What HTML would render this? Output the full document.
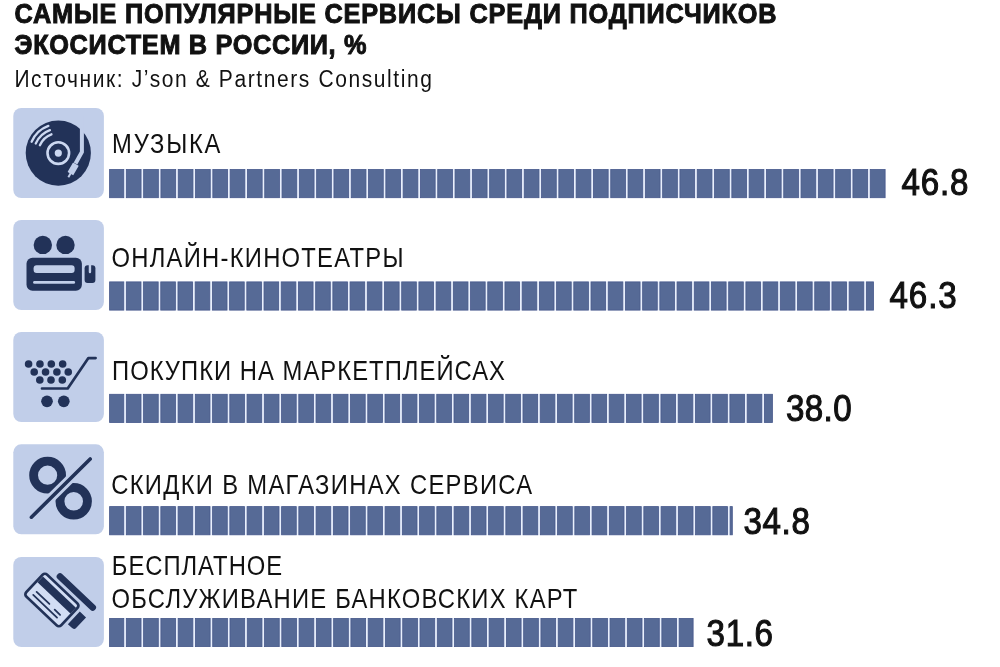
<!DOCTYPE html>
<html><head><meta charset="utf-8"><style>
html,body{margin:0;padding:0;background:#fff;}
svg{display:block;font-family:"Liberation Sans",sans-serif;will-change:transform;}
</style></head><body>
<svg width="1000" height="667" viewBox="0 0 1000 667">
<rect width="1000" height="667" fill="#ffffff"/>
<rect x="13.3" y="108" width="90.6" height="90" rx="8" fill="#c1cee9"/>
<rect x="13.3" y="220" width="90.6" height="90" rx="8" fill="#c1cee9"/>
<rect x="13.3" y="332" width="90.6" height="90" rx="8" fill="#c1cee9"/>
<rect x="13.3" y="444.3" width="90.6" height="90" rx="8" fill="#c1cee9"/>
<rect x="13.3" y="557" width="90.6" height="90" rx="8" fill="#c1cee9"/>
<circle cx="58.3" cy="153.1" r="32.6" fill="#223258"/>
<circle cx="58.3" cy="153.1" r="10.8" fill="none" stroke="#ccd8f1" stroke-width="2.6"/>
<circle cx="58.3" cy="153.1" r="3.6" fill="#ccd8f1"/>
<path d="M31.61 141.77A29 29 0 0 1 48.38 125.85 M35.75 143.53A24.5 24.5 0 0 1 49.92 130.08 M39.89 145.29A20 20 0 0 1 51.46 134.31" fill="none" stroke="#ccd8f1" stroke-width="2.3" stroke-linecap="round"/>
<path d="M81.9 116 L81.9 152 L75.5 163.5" fill="none" stroke="#c1cee9" stroke-width="4" stroke-linejoin="miter"/>
<g transform="translate(73.1,169) rotate(30)"><rect x="-3.3" y="-5.6" width="6.6" height="11" rx="0.6" fill="#c1cee9"/><rect x="-1" y="4" width="2" height="5.5" fill="#c1cee9"/></g>
<circle cx="42.8" cy="244.9" r="9.2" fill="#223258"/>
<circle cx="65.5" cy="244.9" r="9.2" fill="#223258"/>
<rect x="26.5" y="257.8" width="55.4" height="32.9" rx="6" fill="#223258"/>
<rect x="33.6" y="265.2" width="41" height="7.8" rx="3" fill="#c1cee9"/>
<rect x="33.1" y="280.9" width="42" height="2.9" rx="1.4" fill="#c1cee9"/>
<rect x="84.6" y="265.2" width="10.8" height="17.8" rx="3" fill="#223258"/>
<rect x="88.75" y="262" width="2.4" height="11.2" rx="1.2" fill="#c1cee9"/>
<circle cx="28.6" cy="363.95" r="3.8" fill="#223258"/>
<circle cx="39.95" cy="363.95" r="3.8" fill="#223258"/>
<circle cx="51.3" cy="363.95" r="3.8" fill="#223258"/>
<circle cx="62.65" cy="363.95" r="3.8" fill="#223258"/>
<circle cx="34.2" cy="372.05" r="3.8" fill="#223258"/>
<circle cx="45.55" cy="372.05" r="3.8" fill="#223258"/>
<circle cx="56.9" cy="372.05" r="3.8" fill="#223258"/>
<circle cx="68.25" cy="372.05" r="3.8" fill="#223258"/>
<circle cx="39.8" cy="380" r="3.8" fill="#223258"/>
<circle cx="51.0" cy="380" r="3.8" fill="#223258"/>
<circle cx="62.3" cy="380" r="3.8" fill="#223258"/>
<path d="M42 388.5 L67.7 388.5 L88.4 358.1 L95.6 358.1" fill="none" stroke="#223258" stroke-width="2.7" stroke-linecap="round" stroke-linejoin="round"/>
<circle cx="47" cy="401.3" r="5.85" fill="#223258"/><circle cx="63.8" cy="401.3" r="5.85" fill="#223258"/>
<circle cx="47.6" cy="475.2" r="14" fill="none" stroke="#223258" stroke-width="8.8"/>
<circle cx="73.7" cy="501.3" r="13.75" fill="none" stroke="#223258" stroke-width="8.9"/>
<path d="M31.4 517.2 L90.2 459" stroke="#c1cee9" stroke-width="9.4" stroke-linecap="butt"/>
<path d="M31.4 517.2 L90.2 459" stroke="#223258" stroke-width="3.6" stroke-linecap="round"/>
<g transform="translate(51.9,600) rotate(43.5)">
<rect x="-13.5" y="-25.9" width="51.5" height="6.6" rx="3" fill="#223258"/>
<path d="M28.2 -10.8 L36.8 -10.8 L36.8 3.3 Q36.8 6.5 33.6 6.5 L28.2 6.5 Z" fill="#223258"/>
<rect x="-25.4" y="-16.45" width="50.8" height="32.9" rx="4.5" fill="#223258"/>
<rect x="-22.7" y="-13.75" width="45.4" height="27.5" rx="2" fill="#d2ddf4"/>
<rect x="-22.7" y="-11" width="45.4" height="8" fill="#223258"/>
<path d="M-16.7 4.6 L0.9 4.6 M8.7 5.1 L16.1 5.1 M-17 9.2 L15.8 9.2" stroke="#223258" stroke-width="1.8" stroke-linecap="round"/>
</g>
<rect x="109.2" y="169.1" width="776.30" height="29" fill="#e9f0fd"/>
<rect x="109.60" y="169.50" width="14.15" height="28.20" fill="#566a96" stroke="#48598a" stroke-width="0.8"/>
<rect x="126.35" y="169.50" width="14.70" height="28.20" fill="#566a96" stroke="#48598a" stroke-width="0.8"/>
<rect x="143.65" y="169.50" width="14.70" height="28.20" fill="#566a96" stroke="#48598a" stroke-width="0.8"/>
<rect x="160.95" y="169.50" width="14.70" height="28.20" fill="#566a96" stroke="#48598a" stroke-width="0.8"/>
<rect x="178.25" y="169.50" width="14.70" height="28.20" fill="#566a96" stroke="#48598a" stroke-width="0.8"/>
<rect x="195.55" y="169.50" width="14.70" height="28.20" fill="#566a96" stroke="#48598a" stroke-width="0.8"/>
<rect x="212.85" y="169.50" width="14.70" height="28.20" fill="#566a96" stroke="#48598a" stroke-width="0.8"/>
<rect x="230.15" y="169.50" width="14.70" height="28.20" fill="#566a96" stroke="#48598a" stroke-width="0.8"/>
<rect x="247.45" y="169.50" width="14.70" height="28.20" fill="#566a96" stroke="#48598a" stroke-width="0.8"/>
<rect x="264.75" y="169.50" width="14.70" height="28.20" fill="#566a96" stroke="#48598a" stroke-width="0.8"/>
<rect x="282.05" y="169.50" width="14.70" height="28.20" fill="#566a96" stroke="#48598a" stroke-width="0.8"/>
<rect x="299.35" y="169.50" width="14.70" height="28.20" fill="#566a96" stroke="#48598a" stroke-width="0.8"/>
<rect x="316.65" y="169.50" width="14.70" height="28.20" fill="#566a96" stroke="#48598a" stroke-width="0.8"/>
<rect x="333.95" y="169.50" width="14.70" height="28.20" fill="#566a96" stroke="#48598a" stroke-width="0.8"/>
<rect x="351.25" y="169.50" width="14.70" height="28.20" fill="#566a96" stroke="#48598a" stroke-width="0.8"/>
<rect x="368.55" y="169.50" width="14.70" height="28.20" fill="#566a96" stroke="#48598a" stroke-width="0.8"/>
<rect x="385.85" y="169.50" width="14.70" height="28.20" fill="#566a96" stroke="#48598a" stroke-width="0.8"/>
<rect x="403.15" y="169.50" width="14.70" height="28.20" fill="#566a96" stroke="#48598a" stroke-width="0.8"/>
<rect x="420.45" y="169.50" width="14.70" height="28.20" fill="#566a96" stroke="#48598a" stroke-width="0.8"/>
<rect x="437.75" y="169.50" width="14.70" height="28.20" fill="#566a96" stroke="#48598a" stroke-width="0.8"/>
<rect x="455.05" y="169.50" width="14.70" height="28.20" fill="#566a96" stroke="#48598a" stroke-width="0.8"/>
<rect x="472.35" y="169.50" width="14.70" height="28.20" fill="#566a96" stroke="#48598a" stroke-width="0.8"/>
<rect x="489.65" y="169.50" width="14.70" height="28.20" fill="#566a96" stroke="#48598a" stroke-width="0.8"/>
<rect x="506.95" y="169.50" width="14.70" height="28.20" fill="#566a96" stroke="#48598a" stroke-width="0.8"/>
<rect x="524.25" y="169.50" width="14.70" height="28.20" fill="#566a96" stroke="#48598a" stroke-width="0.8"/>
<rect x="541.55" y="169.50" width="14.70" height="28.20" fill="#566a96" stroke="#48598a" stroke-width="0.8"/>
<rect x="558.85" y="169.50" width="14.70" height="28.20" fill="#566a96" stroke="#48598a" stroke-width="0.8"/>
<rect x="576.15" y="169.50" width="14.70" height="28.20" fill="#566a96" stroke="#48598a" stroke-width="0.8"/>
<rect x="593.45" y="169.50" width="14.70" height="28.20" fill="#566a96" stroke="#48598a" stroke-width="0.8"/>
<rect x="610.75" y="169.50" width="14.70" height="28.20" fill="#566a96" stroke="#48598a" stroke-width="0.8"/>
<rect x="628.05" y="169.50" width="14.70" height="28.20" fill="#566a96" stroke="#48598a" stroke-width="0.8"/>
<rect x="645.35" y="169.50" width="14.70" height="28.20" fill="#566a96" stroke="#48598a" stroke-width="0.8"/>
<rect x="662.65" y="169.50" width="14.70" height="28.20" fill="#566a96" stroke="#48598a" stroke-width="0.8"/>
<rect x="679.95" y="169.50" width="14.70" height="28.20" fill="#566a96" stroke="#48598a" stroke-width="0.8"/>
<rect x="697.25" y="169.50" width="14.70" height="28.20" fill="#566a96" stroke="#48598a" stroke-width="0.8"/>
<rect x="714.55" y="169.50" width="14.70" height="28.20" fill="#566a96" stroke="#48598a" stroke-width="0.8"/>
<rect x="731.85" y="169.50" width="14.70" height="28.20" fill="#566a96" stroke="#48598a" stroke-width="0.8"/>
<rect x="749.15" y="169.50" width="14.70" height="28.20" fill="#566a96" stroke="#48598a" stroke-width="0.8"/>
<rect x="766.45" y="169.50" width="14.70" height="28.20" fill="#566a96" stroke="#48598a" stroke-width="0.8"/>
<rect x="783.75" y="169.50" width="14.70" height="28.20" fill="#566a96" stroke="#48598a" stroke-width="0.8"/>
<rect x="801.05" y="169.50" width="14.70" height="28.20" fill="#566a96" stroke="#48598a" stroke-width="0.8"/>
<rect x="818.35" y="169.50" width="14.70" height="28.20" fill="#566a96" stroke="#48598a" stroke-width="0.8"/>
<rect x="835.65" y="169.50" width="14.70" height="28.20" fill="#566a96" stroke="#48598a" stroke-width="0.8"/>
<rect x="852.95" y="169.50" width="14.70" height="28.20" fill="#566a96" stroke="#48598a" stroke-width="0.8"/>
<rect x="870.25" y="169.50" width="14.85" height="28.20" fill="#566a96" stroke="#48598a" stroke-width="0.8"/>
<rect x="109.2" y="281.5" width="764.70" height="29" fill="#e9f0fd"/>
<rect x="109.60" y="281.90" width="14.15" height="28.20" fill="#566a96" stroke="#48598a" stroke-width="0.8"/>
<rect x="126.35" y="281.90" width="14.61" height="28.20" fill="#566a96" stroke="#48598a" stroke-width="0.8"/>
<rect x="143.56" y="281.90" width="14.61" height="28.20" fill="#566a96" stroke="#48598a" stroke-width="0.8"/>
<rect x="160.77" y="281.90" width="14.61" height="28.20" fill="#566a96" stroke="#48598a" stroke-width="0.8"/>
<rect x="177.98" y="281.90" width="14.61" height="28.20" fill="#566a96" stroke="#48598a" stroke-width="0.8"/>
<rect x="195.19" y="281.90" width="14.61" height="28.20" fill="#566a96" stroke="#48598a" stroke-width="0.8"/>
<rect x="212.40" y="281.90" width="14.61" height="28.20" fill="#566a96" stroke="#48598a" stroke-width="0.8"/>
<rect x="229.61" y="281.90" width="14.61" height="28.20" fill="#566a96" stroke="#48598a" stroke-width="0.8"/>
<rect x="246.82" y="281.90" width="14.61" height="28.20" fill="#566a96" stroke="#48598a" stroke-width="0.8"/>
<rect x="264.03" y="281.90" width="14.61" height="28.20" fill="#566a96" stroke="#48598a" stroke-width="0.8"/>
<rect x="281.24" y="281.90" width="14.61" height="28.20" fill="#566a96" stroke="#48598a" stroke-width="0.8"/>
<rect x="298.45" y="281.90" width="14.61" height="28.20" fill="#566a96" stroke="#48598a" stroke-width="0.8"/>
<rect x="315.66" y="281.90" width="14.61" height="28.20" fill="#566a96" stroke="#48598a" stroke-width="0.8"/>
<rect x="332.87" y="281.90" width="14.61" height="28.20" fill="#566a96" stroke="#48598a" stroke-width="0.8"/>
<rect x="350.08" y="281.90" width="14.61" height="28.20" fill="#566a96" stroke="#48598a" stroke-width="0.8"/>
<rect x="367.29" y="281.90" width="14.61" height="28.20" fill="#566a96" stroke="#48598a" stroke-width="0.8"/>
<rect x="384.50" y="281.90" width="14.61" height="28.20" fill="#566a96" stroke="#48598a" stroke-width="0.8"/>
<rect x="401.71" y="281.90" width="14.61" height="28.20" fill="#566a96" stroke="#48598a" stroke-width="0.8"/>
<rect x="418.92" y="281.90" width="14.61" height="28.20" fill="#566a96" stroke="#48598a" stroke-width="0.8"/>
<rect x="436.13" y="281.90" width="14.61" height="28.20" fill="#566a96" stroke="#48598a" stroke-width="0.8"/>
<rect x="453.34" y="281.90" width="14.61" height="28.20" fill="#566a96" stroke="#48598a" stroke-width="0.8"/>
<rect x="470.55" y="281.90" width="14.61" height="28.20" fill="#566a96" stroke="#48598a" stroke-width="0.8"/>
<rect x="487.76" y="281.90" width="14.61" height="28.20" fill="#566a96" stroke="#48598a" stroke-width="0.8"/>
<rect x="504.97" y="281.90" width="14.61" height="28.20" fill="#566a96" stroke="#48598a" stroke-width="0.8"/>
<rect x="522.18" y="281.90" width="14.61" height="28.20" fill="#566a96" stroke="#48598a" stroke-width="0.8"/>
<rect x="539.39" y="281.90" width="14.61" height="28.20" fill="#566a96" stroke="#48598a" stroke-width="0.8"/>
<rect x="556.60" y="281.90" width="14.61" height="28.20" fill="#566a96" stroke="#48598a" stroke-width="0.8"/>
<rect x="573.81" y="281.90" width="14.61" height="28.20" fill="#566a96" stroke="#48598a" stroke-width="0.8"/>
<rect x="591.02" y="281.90" width="14.61" height="28.20" fill="#566a96" stroke="#48598a" stroke-width="0.8"/>
<rect x="608.23" y="281.90" width="14.61" height="28.20" fill="#566a96" stroke="#48598a" stroke-width="0.8"/>
<rect x="625.44" y="281.90" width="14.61" height="28.20" fill="#566a96" stroke="#48598a" stroke-width="0.8"/>
<rect x="642.65" y="281.90" width="14.61" height="28.20" fill="#566a96" stroke="#48598a" stroke-width="0.8"/>
<rect x="659.86" y="281.90" width="14.61" height="28.20" fill="#566a96" stroke="#48598a" stroke-width="0.8"/>
<rect x="677.07" y="281.90" width="14.61" height="28.20" fill="#566a96" stroke="#48598a" stroke-width="0.8"/>
<rect x="694.28" y="281.90" width="14.61" height="28.20" fill="#566a96" stroke="#48598a" stroke-width="0.8"/>
<rect x="711.49" y="281.90" width="14.61" height="28.20" fill="#566a96" stroke="#48598a" stroke-width="0.8"/>
<rect x="728.70" y="281.90" width="14.61" height="28.20" fill="#566a96" stroke="#48598a" stroke-width="0.8"/>
<rect x="745.91" y="281.90" width="14.61" height="28.20" fill="#566a96" stroke="#48598a" stroke-width="0.8"/>
<rect x="763.12" y="281.90" width="14.61" height="28.20" fill="#566a96" stroke="#48598a" stroke-width="0.8"/>
<rect x="780.33" y="281.90" width="14.61" height="28.20" fill="#566a96" stroke="#48598a" stroke-width="0.8"/>
<rect x="797.54" y="281.90" width="14.61" height="28.20" fill="#566a96" stroke="#48598a" stroke-width="0.8"/>
<rect x="814.75" y="281.90" width="14.61" height="28.20" fill="#566a96" stroke="#48598a" stroke-width="0.8"/>
<rect x="831.96" y="281.90" width="14.61" height="28.20" fill="#566a96" stroke="#48598a" stroke-width="0.8"/>
<rect x="849.17" y="281.90" width="14.61" height="28.20" fill="#566a96" stroke="#48598a" stroke-width="0.8"/>
<rect x="866.38" y="281.90" width="7.12" height="28.20" fill="#566a96" stroke="#48598a" stroke-width="0.8"/>
<rect x="109.2" y="393.9" width="663.60" height="29" fill="#e9f0fd"/>
<rect x="109.60" y="394.30" width="14.15" height="28.20" fill="#566a96" stroke="#48598a" stroke-width="0.8"/>
<rect x="126.35" y="394.30" width="14.64" height="28.20" fill="#566a96" stroke="#48598a" stroke-width="0.8"/>
<rect x="143.59" y="394.30" width="14.64" height="28.20" fill="#566a96" stroke="#48598a" stroke-width="0.8"/>
<rect x="160.84" y="394.30" width="14.64" height="28.20" fill="#566a96" stroke="#48598a" stroke-width="0.8"/>
<rect x="178.09" y="394.30" width="14.64" height="28.20" fill="#566a96" stroke="#48598a" stroke-width="0.8"/>
<rect x="195.33" y="394.30" width="14.64" height="28.20" fill="#566a96" stroke="#48598a" stroke-width="0.8"/>
<rect x="212.58" y="394.30" width="14.64" height="28.20" fill="#566a96" stroke="#48598a" stroke-width="0.8"/>
<rect x="229.82" y="394.30" width="14.64" height="28.20" fill="#566a96" stroke="#48598a" stroke-width="0.8"/>
<rect x="247.06" y="394.30" width="14.65" height="28.20" fill="#566a96" stroke="#48598a" stroke-width="0.8"/>
<rect x="264.31" y="394.30" width="14.65" height="28.20" fill="#566a96" stroke="#48598a" stroke-width="0.8"/>
<rect x="281.55" y="394.30" width="14.65" height="28.20" fill="#566a96" stroke="#48598a" stroke-width="0.8"/>
<rect x="298.80" y="394.30" width="14.65" height="28.20" fill="#566a96" stroke="#48598a" stroke-width="0.8"/>
<rect x="316.04" y="394.30" width="14.65" height="28.20" fill="#566a96" stroke="#48598a" stroke-width="0.8"/>
<rect x="333.29" y="394.30" width="14.65" height="28.20" fill="#566a96" stroke="#48598a" stroke-width="0.8"/>
<rect x="350.53" y="394.30" width="14.65" height="28.20" fill="#566a96" stroke="#48598a" stroke-width="0.8"/>
<rect x="367.78" y="394.30" width="14.65" height="28.20" fill="#566a96" stroke="#48598a" stroke-width="0.8"/>
<rect x="385.02" y="394.30" width="14.65" height="28.20" fill="#566a96" stroke="#48598a" stroke-width="0.8"/>
<rect x="402.27" y="394.30" width="14.65" height="28.20" fill="#566a96" stroke="#48598a" stroke-width="0.8"/>
<rect x="419.51" y="394.30" width="14.65" height="28.20" fill="#566a96" stroke="#48598a" stroke-width="0.8"/>
<rect x="436.76" y="394.30" width="14.65" height="28.20" fill="#566a96" stroke="#48598a" stroke-width="0.8"/>
<rect x="454.00" y="394.30" width="14.65" height="28.20" fill="#566a96" stroke="#48598a" stroke-width="0.8"/>
<rect x="471.25" y="394.30" width="14.65" height="28.20" fill="#566a96" stroke="#48598a" stroke-width="0.8"/>
<rect x="488.50" y="394.30" width="14.65" height="28.20" fill="#566a96" stroke="#48598a" stroke-width="0.8"/>
<rect x="505.74" y="394.30" width="14.65" height="28.20" fill="#566a96" stroke="#48598a" stroke-width="0.8"/>
<rect x="522.99" y="394.30" width="14.64" height="28.20" fill="#566a96" stroke="#48598a" stroke-width="0.8"/>
<rect x="540.23" y="394.30" width="14.65" height="28.20" fill="#566a96" stroke="#48598a" stroke-width="0.8"/>
<rect x="557.47" y="394.30" width="14.65" height="28.20" fill="#566a96" stroke="#48598a" stroke-width="0.8"/>
<rect x="574.72" y="394.30" width="14.65" height="28.20" fill="#566a96" stroke="#48598a" stroke-width="0.8"/>
<rect x="591.96" y="394.30" width="14.65" height="28.20" fill="#566a96" stroke="#48598a" stroke-width="0.8"/>
<rect x="609.21" y="394.30" width="14.65" height="28.20" fill="#566a96" stroke="#48598a" stroke-width="0.8"/>
<rect x="626.45" y="394.30" width="14.65" height="28.20" fill="#566a96" stroke="#48598a" stroke-width="0.8"/>
<rect x="643.70" y="394.30" width="14.65" height="28.20" fill="#566a96" stroke="#48598a" stroke-width="0.8"/>
<rect x="660.94" y="394.30" width="14.65" height="28.20" fill="#566a96" stroke="#48598a" stroke-width="0.8"/>
<rect x="678.19" y="394.30" width="14.65" height="28.20" fill="#566a96" stroke="#48598a" stroke-width="0.8"/>
<rect x="695.43" y="394.30" width="14.65" height="28.20" fill="#566a96" stroke="#48598a" stroke-width="0.8"/>
<rect x="712.68" y="394.30" width="14.65" height="28.20" fill="#566a96" stroke="#48598a" stroke-width="0.8"/>
<rect x="729.92" y="394.30" width="14.65" height="28.20" fill="#566a96" stroke="#48598a" stroke-width="0.8"/>
<rect x="747.17" y="394.30" width="14.65" height="28.20" fill="#566a96" stroke="#48598a" stroke-width="0.8"/>
<rect x="764.41" y="394.30" width="7.98" height="28.20" fill="#566a96" stroke="#48598a" stroke-width="0.8"/>
<rect x="109.2" y="506.2" width="623.50" height="29" fill="#e9f0fd"/>
<rect x="109.60" y="506.60" width="14.15" height="28.20" fill="#566a96" stroke="#48598a" stroke-width="0.8"/>
<rect x="126.35" y="506.60" width="14.65" height="28.20" fill="#566a96" stroke="#48598a" stroke-width="0.8"/>
<rect x="143.60" y="506.60" width="14.65" height="28.20" fill="#566a96" stroke="#48598a" stroke-width="0.8"/>
<rect x="160.85" y="506.60" width="14.65" height="28.20" fill="#566a96" stroke="#48598a" stroke-width="0.8"/>
<rect x="178.10" y="506.60" width="14.65" height="28.20" fill="#566a96" stroke="#48598a" stroke-width="0.8"/>
<rect x="195.35" y="506.60" width="14.65" height="28.20" fill="#566a96" stroke="#48598a" stroke-width="0.8"/>
<rect x="212.60" y="506.60" width="14.65" height="28.20" fill="#566a96" stroke="#48598a" stroke-width="0.8"/>
<rect x="229.85" y="506.60" width="14.65" height="28.20" fill="#566a96" stroke="#48598a" stroke-width="0.8"/>
<rect x="247.10" y="506.60" width="14.65" height="28.20" fill="#566a96" stroke="#48598a" stroke-width="0.8"/>
<rect x="264.35" y="506.60" width="14.65" height="28.20" fill="#566a96" stroke="#48598a" stroke-width="0.8"/>
<rect x="281.60" y="506.60" width="14.65" height="28.20" fill="#566a96" stroke="#48598a" stroke-width="0.8"/>
<rect x="298.85" y="506.60" width="14.65" height="28.20" fill="#566a96" stroke="#48598a" stroke-width="0.8"/>
<rect x="316.10" y="506.60" width="14.65" height="28.20" fill="#566a96" stroke="#48598a" stroke-width="0.8"/>
<rect x="333.35" y="506.60" width="14.65" height="28.20" fill="#566a96" stroke="#48598a" stroke-width="0.8"/>
<rect x="350.60" y="506.60" width="14.65" height="28.20" fill="#566a96" stroke="#48598a" stroke-width="0.8"/>
<rect x="367.85" y="506.60" width="14.65" height="28.20" fill="#566a96" stroke="#48598a" stroke-width="0.8"/>
<rect x="385.10" y="506.60" width="14.65" height="28.20" fill="#566a96" stroke="#48598a" stroke-width="0.8"/>
<rect x="402.35" y="506.60" width="14.65" height="28.20" fill="#566a96" stroke="#48598a" stroke-width="0.8"/>
<rect x="419.60" y="506.60" width="14.65" height="28.20" fill="#566a96" stroke="#48598a" stroke-width="0.8"/>
<rect x="436.85" y="506.60" width="14.65" height="28.20" fill="#566a96" stroke="#48598a" stroke-width="0.8"/>
<rect x="454.10" y="506.60" width="14.65" height="28.20" fill="#566a96" stroke="#48598a" stroke-width="0.8"/>
<rect x="471.35" y="506.60" width="14.65" height="28.20" fill="#566a96" stroke="#48598a" stroke-width="0.8"/>
<rect x="488.60" y="506.60" width="14.65" height="28.20" fill="#566a96" stroke="#48598a" stroke-width="0.8"/>
<rect x="505.85" y="506.60" width="14.65" height="28.20" fill="#566a96" stroke="#48598a" stroke-width="0.8"/>
<rect x="523.10" y="506.60" width="14.65" height="28.20" fill="#566a96" stroke="#48598a" stroke-width="0.8"/>
<rect x="540.35" y="506.60" width="14.65" height="28.20" fill="#566a96" stroke="#48598a" stroke-width="0.8"/>
<rect x="557.60" y="506.60" width="14.65" height="28.20" fill="#566a96" stroke="#48598a" stroke-width="0.8"/>
<rect x="574.85" y="506.60" width="14.65" height="28.20" fill="#566a96" stroke="#48598a" stroke-width="0.8"/>
<rect x="592.10" y="506.60" width="14.65" height="28.20" fill="#566a96" stroke="#48598a" stroke-width="0.8"/>
<rect x="609.35" y="506.60" width="14.65" height="28.20" fill="#566a96" stroke="#48598a" stroke-width="0.8"/>
<rect x="626.60" y="506.60" width="14.65" height="28.20" fill="#566a96" stroke="#48598a" stroke-width="0.8"/>
<rect x="643.85" y="506.60" width="14.65" height="28.20" fill="#566a96" stroke="#48598a" stroke-width="0.8"/>
<rect x="661.10" y="506.60" width="14.65" height="28.20" fill="#566a96" stroke="#48598a" stroke-width="0.8"/>
<rect x="678.35" y="506.60" width="14.65" height="28.20" fill="#566a96" stroke="#48598a" stroke-width="0.8"/>
<rect x="695.60" y="506.60" width="14.65" height="28.20" fill="#566a96" stroke="#48598a" stroke-width="0.8"/>
<rect x="712.85" y="506.60" width="14.65" height="28.20" fill="#566a96" stroke="#48598a" stroke-width="0.8"/>
<rect x="730.10" y="506.60" width="2.20" height="28.20" fill="#566a96" stroke="#48598a" stroke-width="0.8"/>
<rect x="109.2" y="618" width="584.30" height="29" fill="#e9f0fd"/>
<rect x="109.60" y="618.40" width="14.15" height="28.20" fill="#566a96" stroke="#48598a" stroke-width="0.8"/>
<rect x="126.35" y="618.40" width="14.67" height="28.20" fill="#566a96" stroke="#48598a" stroke-width="0.8"/>
<rect x="143.62" y="618.40" width="14.67" height="28.20" fill="#566a96" stroke="#48598a" stroke-width="0.8"/>
<rect x="160.90" y="618.40" width="14.67" height="28.20" fill="#566a96" stroke="#48598a" stroke-width="0.8"/>
<rect x="178.18" y="618.40" width="14.67" height="28.20" fill="#566a96" stroke="#48598a" stroke-width="0.8"/>
<rect x="195.45" y="618.40" width="14.68" height="28.20" fill="#566a96" stroke="#48598a" stroke-width="0.8"/>
<rect x="212.73" y="618.40" width="14.67" height="28.20" fill="#566a96" stroke="#48598a" stroke-width="0.8"/>
<rect x="230.00" y="618.40" width="14.67" height="28.20" fill="#566a96" stroke="#48598a" stroke-width="0.8"/>
<rect x="247.27" y="618.40" width="14.68" height="28.20" fill="#566a96" stroke="#48598a" stroke-width="0.8"/>
<rect x="264.55" y="618.40" width="14.68" height="28.20" fill="#566a96" stroke="#48598a" stroke-width="0.8"/>
<rect x="281.82" y="618.40" width="14.68" height="28.20" fill="#566a96" stroke="#48598a" stroke-width="0.8"/>
<rect x="299.10" y="618.40" width="14.68" height="28.20" fill="#566a96" stroke="#48598a" stroke-width="0.8"/>
<rect x="316.37" y="618.40" width="14.68" height="28.20" fill="#566a96" stroke="#48598a" stroke-width="0.8"/>
<rect x="333.65" y="618.40" width="14.68" height="28.20" fill="#566a96" stroke="#48598a" stroke-width="0.8"/>
<rect x="350.92" y="618.40" width="14.68" height="28.20" fill="#566a96" stroke="#48598a" stroke-width="0.8"/>
<rect x="368.20" y="618.40" width="14.68" height="28.20" fill="#566a96" stroke="#48598a" stroke-width="0.8"/>
<rect x="385.47" y="618.40" width="14.68" height="28.20" fill="#566a96" stroke="#48598a" stroke-width="0.8"/>
<rect x="402.75" y="618.40" width="14.68" height="28.20" fill="#566a96" stroke="#48598a" stroke-width="0.8"/>
<rect x="420.02" y="618.40" width="14.68" height="28.20" fill="#566a96" stroke="#48598a" stroke-width="0.8"/>
<rect x="437.30" y="618.40" width="14.68" height="28.20" fill="#566a96" stroke="#48598a" stroke-width="0.8"/>
<rect x="454.57" y="618.40" width="14.68" height="28.20" fill="#566a96" stroke="#48598a" stroke-width="0.8"/>
<rect x="471.85" y="618.40" width="14.68" height="28.20" fill="#566a96" stroke="#48598a" stroke-width="0.8"/>
<rect x="489.12" y="618.40" width="14.68" height="28.20" fill="#566a96" stroke="#48598a" stroke-width="0.8"/>
<rect x="506.40" y="618.40" width="14.68" height="28.20" fill="#566a96" stroke="#48598a" stroke-width="0.8"/>
<rect x="523.67" y="618.40" width="14.68" height="28.20" fill="#566a96" stroke="#48598a" stroke-width="0.8"/>
<rect x="540.95" y="618.40" width="14.68" height="28.20" fill="#566a96" stroke="#48598a" stroke-width="0.8"/>
<rect x="558.22" y="618.40" width="14.68" height="28.20" fill="#566a96" stroke="#48598a" stroke-width="0.8"/>
<rect x="575.50" y="618.40" width="14.68" height="28.20" fill="#566a96" stroke="#48598a" stroke-width="0.8"/>
<rect x="592.77" y="618.40" width="14.68" height="28.20" fill="#566a96" stroke="#48598a" stroke-width="0.8"/>
<rect x="610.05" y="618.40" width="14.68" height="28.20" fill="#566a96" stroke="#48598a" stroke-width="0.8"/>
<rect x="627.32" y="618.40" width="14.68" height="28.20" fill="#566a96" stroke="#48598a" stroke-width="0.8"/>
<rect x="644.60" y="618.40" width="14.68" height="28.20" fill="#566a96" stroke="#48598a" stroke-width="0.8"/>
<rect x="661.87" y="618.40" width="14.68" height="28.20" fill="#566a96" stroke="#48598a" stroke-width="0.8"/>
<rect x="679.15" y="618.40" width="13.95" height="28.20" fill="#566a96" stroke="#48598a" stroke-width="0.8"/>
<text transform="translate(14.50,23) scale(0.92,1)" font-size="27.5" font-weight="bold" textLength="828.26" lengthAdjust="spacing" fill="#111111" stroke="#111111" stroke-width="1.0">САМЫЕ ПОПУЛЯРНЫЕ СЕРВИСЫ СРЕДИ ПОДПИСЧИКОВ</text>
<text transform="translate(14.50,54.4) scale(0.92,1)" font-size="27.5" font-weight="bold" textLength="382.61" lengthAdjust="spacing" fill="#111111" stroke="#111111" stroke-width="1.0">ЭКОСИСТЕМ В РОССИИ, %</text>
<text transform="translate(14.40,87) scale(0.85,1)" font-size="24.7" font-weight="normal" textLength="491.29" lengthAdjust="spacing" fill="#111111">Источник: J’son &amp; Partners Consulting</text>
<text transform="translate(112.10,153.2) scale(0.85,1)" font-size="28" font-weight="normal" textLength="127.53" lengthAdjust="spacing" fill="#111111">МУЗЫКА</text>
<text transform="translate(111.50,266.8) scale(0.85,1)" font-size="28" font-weight="normal" textLength="343.53" lengthAdjust="spacing" fill="#111111">ОНЛАЙН-КИНОТЕАТРЫ</text>
<text transform="translate(112.00,380.2) scale(0.85,1)" font-size="28" font-weight="normal" textLength="462.35" lengthAdjust="spacing" fill="#111111">ПОКУПКИ НА МАРКЕТПЛЕЙСАХ</text>
<text transform="translate(111.20,493.9) scale(0.85,1)" font-size="28" font-weight="normal" textLength="495.29" lengthAdjust="spacing" fill="#111111">СКИДКИ В МАГАЗИНАХ СЕРВИСА</text>
<text transform="translate(111.80,574.9) scale(0.85,1)" font-size="28" font-weight="normal" textLength="200.47" lengthAdjust="spacing" fill="#111111">БЕСПЛАТНОЕ</text>
<text transform="translate(111.50,607.5) scale(0.85,1)" font-size="28" font-weight="normal" textLength="548.00" lengthAdjust="spacing" fill="#111111">ОБСЛУЖИВАНИЕ БАНКОВСКИХ КАРТ</text>
<text transform="translate(901.50,195) scale(0.9,1)" font-size="36.8" font-weight="normal" textLength="74.44" lengthAdjust="spacing" fill="#111111" stroke="#111111" stroke-width="1.1">46.8</text>
<text transform="translate(889.50,308) scale(0.9,1)" font-size="36.8" font-weight="normal" textLength="74.67" lengthAdjust="spacing" fill="#111111" stroke="#111111" stroke-width="1.1">46.3</text>
<text transform="translate(786.00,421.3) scale(0.9,1)" font-size="36.8" font-weight="normal" textLength="72.89" lengthAdjust="spacing" fill="#111111" stroke="#111111" stroke-width="1.1">38.0</text>
<text transform="translate(743.50,534.1) scale(0.9,1)" font-size="36.8" font-weight="normal" textLength="73.78" lengthAdjust="spacing" fill="#111111" stroke="#111111" stroke-width="1.1">34.8</text>
<text transform="translate(706.60,646.2) scale(0.9,1)" font-size="36.8" font-weight="normal" textLength="73.78" lengthAdjust="spacing" fill="#111111" stroke="#111111" stroke-width="1.1">31.6</text>
</svg>
</body></html>
